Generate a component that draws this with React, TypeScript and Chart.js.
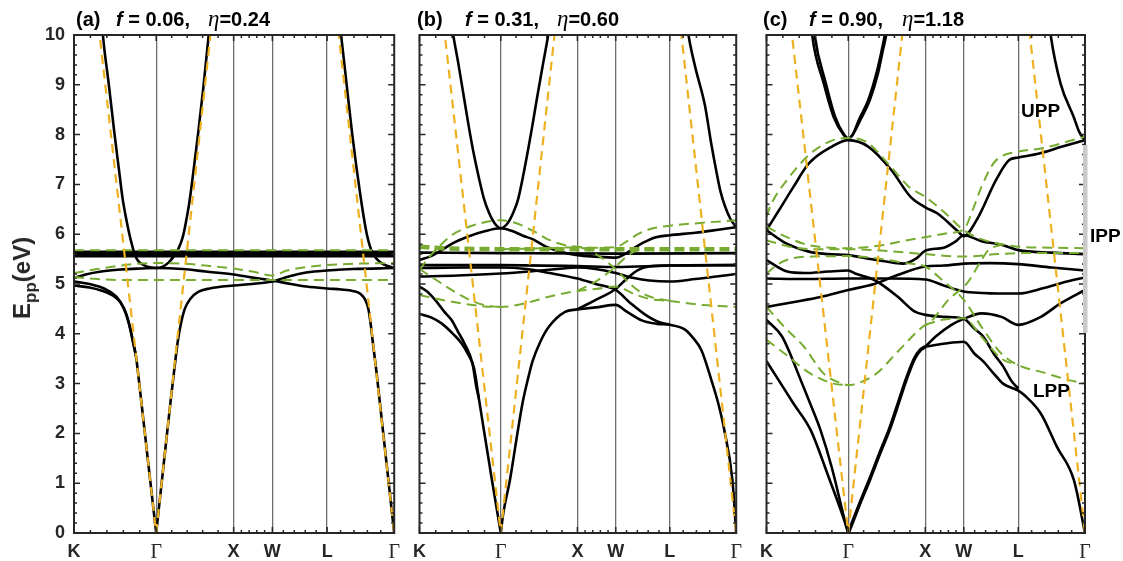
import React, { useEffect, useRef } from 'react';
import { Chart, registerables } from 'chart.js';

Chart.register(...registerables);

type Pt = [number, number];

// ---------- axes ----------
const K_PATH_POS = [0, 1.0607, 2.0607, 2.5607, 3.2678, 4.1339];
const K_PATH_LABELS = ['K', 'Γ', 'X', 'W', 'L', 'Γ'];
const E_MIN = 0;
const E_MAX = 10;

// ---------- light lines (orange, same in every panel) ----------
const LIGHT_KG: Pt[] = [[0.2945, 10.5], [1.0607, 0]];
const LIGHT_GX: Pt[] = [[1.0607, 0], [1.797, 10.5]];
const LIGHT_LG: Pt[] = [[3.39, 10.4], [4.1339, 0]];

// ---------- panel (a) f=0.06 ----------
const A_UPPER_1: Pt[] = [[0.35, 10.5], [0.373, 10], [0.45, 9.0], [0.52, 8.05], [0.58, 7.3], [0.627, 6.72], [0.675, 6.3], [0.712, 6.02], [0.755, 5.75], [0.79, 5.57], [0.83, 5.46], [0.9, 5.38], [0.98, 5.335], [1.061, 5.32], [1.14, 5.345], [1.22, 5.43], [1.29, 5.56], [1.34, 5.68], [1.4, 5.92], [1.44, 6.2], [1.49, 6.65], [1.545, 7.3], [1.603, 8.03], [1.67, 8.95], [1.739, 10], [1.76, 10.35]];
const A_UPPER_2: Pt[] = [[3.41, 10.5], [3.448, 10], [3.52, 9.0], [3.59, 8.03], [3.65, 7.3], [3.7, 6.75], [3.745, 6.3], [3.78, 6.0], [3.82, 5.76], [3.86, 5.6], [3.91, 5.5], [3.97, 5.42], [4.05, 5.36], [4.134, 5.32]];
const A_FLAT_1: Pt[] = [[0, 5.56], [4.134, 5.56]];
const A_FLAT_2: Pt[] = [[0, 5.6], [4.134, 5.6]];
const A_FLAT_3: Pt[] = [[0, 5.645], [4.134, 5.645]];
const A_MID: Pt[] = [[0, 5.12], [0.15, 5.19], [0.35, 5.25], [0.6, 5.29], [0.85, 5.31], [1.061, 5.32], [1.4, 5.3], [1.7, 5.25], [2.061, 5.19], [2.3, 5.13], [2.561, 5.07], [2.8, 5.0], [3.0, 4.95], [3.268, 4.91], [3.45, 4.89], [3.6, 4.86], [3.7, 4.8], [3.76, 4.68], [3.8, 4.5], [3.83, 4.2], [3.86, 3.8], [3.9, 3.3], [3.95, 2.6], [4.0, 1.89], [4.07, 0.9], [4.134, 0]];
const A_LP_K1: Pt[] = [[0, 4.97], [0.2, 4.93], [0.35, 4.87], [0.5, 4.77], [0.6, 4.63], [0.67, 4.42], [0.72, 4.15], [0.76, 3.85], [0.8, 3.55], [0.85, 2.9], [0.95, 1.52], [1.061, 0]];
const A_LP_K2: Pt[] = [[0, 5.05], [0.2, 5.0], [0.4, 4.9], [0.55, 4.74], [0.64, 4.52], [0.7, 4.25], [0.74, 4.0], [0.78, 3.7], [0.8, 3.55]];
const A_LP_GX: Pt[] = [[1.061, 0], [1.15, 1.27], [1.25, 2.69], [1.3, 3.35], [1.34, 3.85], [1.38, 4.2], [1.43, 4.5], [1.5, 4.7], [1.603, 4.84], [1.75, 4.91], [2.061, 4.97], [2.3, 5.0], [2.561, 5.05], [2.75, 5.14], [2.9, 5.2], [3.1, 5.25], [3.268, 5.27], [3.6, 5.3], [4.134, 5.32]];
const A_PL_1: Pt[] = [[0, 5.68], [4.134, 5.68]];
const A_PL_2: Pt[] = [[0, 5.14], [0.3, 5.1], [0.6, 5.08], [4.134, 5.08]];
const A_PL_3: Pt[] = [[0, 5.22], [0.3, 5.3], [0.6, 5.37], [0.85, 5.41], [1.061, 5.42], [1.4, 5.41], [1.7, 5.37], [2.061, 5.31], [2.3, 5.25], [2.561, 5.17], [2.75, 5.27], [3.0, 5.34], [3.268, 5.38], [3.7, 5.41], [4.134, 5.42]];

// ---------- panel (b) f=0.31 ----------
const B_UPPER_1: Pt[] = [[0.4, 10.4], [0.44, 10], [0.51, 9.4], [0.585, 8.7], [0.65, 8.1], [0.71, 7.6], [0.78, 7.1], [0.84, 6.72], [0.91, 6.42], [0.98, 6.22], [1.061, 6.12], [1.15, 6.22], [1.22, 6.42], [1.285, 6.69], [1.35, 7.15], [1.412, 7.65], [1.47, 8.15], [1.53, 8.7], [1.61, 9.4], [1.68, 10.0], [1.72, 10.4]];
const B_UPPER_2: Pt[] = [[3.47, 10.5], [3.511, 10], [3.6, 9.35], [3.724, 8.6], [3.81, 7.8], [3.87, 7.3], [3.93, 6.85], [3.99, 6.55], [4.06, 6.3], [4.134, 6.14]];
const B_FLAT: Pt[] = [[0, 5.63], [1.061, 5.62], [2.561, 5.61], [4.134, 5.62]];
const B_BAND_1: Pt[] = [[0, 5.48], [0.15, 5.56], [0.288, 5.68], [0.45, 5.83], [0.628, 5.95], [0.85, 6.06], [1.061, 6.12], [1.2, 6.07], [1.35, 5.97], [1.476, 5.9], [1.65, 5.75], [1.815, 5.66], [2.061, 5.58], [2.3, 5.55], [2.561, 5.53], [2.68, 5.6], [2.8, 5.72], [2.92, 5.83], [3.087, 5.94], [3.268, 5.98], [3.6, 6.03], [3.9, 6.09], [4.134, 6.14]];
const B_BAND_2: Pt[] = [[0, 5.38], [1.061, 5.38], [2.061, 5.36], [2.561, 5.34], [3.268, 5.37], [4.134, 5.38]];
const B_BAND_3: Pt[] = [[0, 5.32], [0.6, 5.33], [1.061, 5.33], [1.4, 5.3], [1.7, 5.22], [2.061, 5.11], [2.3, 5.0], [2.561, 4.88], [2.75, 4.62], [2.95, 4.38], [3.15, 4.22], [3.268, 4.19]];
const B_BAND_4: Pt[] = [[0, 5.15], [0.5, 5.17], [1.061, 5.21], [1.5, 5.26], [1.8, 5.3], [2.061, 5.33], [2.3, 5.3], [2.561, 5.22], [2.8, 5.12], [3.0, 5.07], [3.268, 5.05], [3.6, 5.1], [4.134, 5.2]];
const B_LP_GX: Pt[] = [[1.061, 0], [1.094, 0.4], [1.18, 1.06], [1.285, 2.07], [1.35, 2.65], [1.412, 3.07], [1.476, 3.45], [1.58, 3.85], [1.688, 4.14], [1.9, 4.44], [2.061, 4.49]];
const B_LP_XG: Pt[] = [[2.061, 4.49], [2.3, 4.53], [2.561, 4.58], [2.7, 4.45], [2.9, 4.27], [3.1, 4.2], [3.268, 4.18], [3.47, 4.08], [3.58, 3.9], [3.68, 3.67], [3.81, 3.07], [3.9, 2.6], [3.978, 2.07], [4.084, 1.06], [4.134, 0]];
const B_RISE: Pt[] = [[2.061, 4.49], [2.3, 4.68], [2.561, 4.9], [2.7, 5.1], [2.85, 5.28], [3.0, 5.35], [3.268, 5.37], [4.134, 5.38]];
const B_LP_K1: Pt[] = [[0, 4.4], [0.15, 4.33], [0.288, 4.21], [0.45, 3.98], [0.543, 3.82], [0.63, 3.6], [0.713, 3.3], [0.775, 2.7], [0.84, 2.07], [0.946, 1.06], [1.061, 0]];
const B_LP_K2: Pt[] = [[0, 4.95], [0.1, 4.85], [0.204, 4.68], [0.32, 4.45], [0.416, 4.28], [0.5, 4.05], [0.585, 3.81], [0.692, 3.4], [0.74, 2.95], [0.775, 2.7]];
const B_PL_1: Pt[] = [[0, 5.75], [0.3, 5.72], [1.061, 5.7], [4.134, 5.7]];
const B_PL_2: Pt[] = [[0, 5.28], [0.08, 5.45], [0.16, 5.6], [0.3, 5.82], [0.42, 5.98], [0.6, 6.12], [0.8, 6.22], [1.061, 6.28], [1.3, 6.2], [1.5, 6.05], [1.7, 5.88], [1.9, 5.78], [2.061, 5.75], [2.3, 5.73], [2.561, 5.74], [2.7, 5.85], [2.85, 6.0], [3.0, 6.1], [3.268, 6.17], [3.7, 6.23], [4.134, 6.28]];
const B_PL_3: Pt[] = [[0, 4.78], [0.3, 4.68], [0.6, 4.6], [0.85, 4.55], [1.061, 4.54], [1.4, 4.62], [1.7, 4.75], [2.061, 4.86], [2.3, 4.9], [2.561, 4.95], [2.8, 4.8], [3.0, 4.7], [3.268, 4.66], [3.7, 4.58], [4.134, 4.54]];
const B_PL_4: Pt[] = [[0, 5.3], [0.2, 5.1], [0.45, 4.85], [0.7, 4.65], [0.9, 4.56], [1.061, 4.54]];
const B_PL_5: Pt[] = [[1.061, 5.7], [1.7, 5.72], [2.061, 5.74], [2.3, 5.6], [2.561, 5.3], [2.75, 5.0], [2.95, 4.78], [3.268, 4.66]];
const B_PL_6: Pt[] = [[2.061, 4.86], [2.3, 5.05], [2.561, 5.35], [2.7, 5.55], [2.85, 5.68], [3.0, 5.7]];

// ---------- panel (c) f=0.90 ----------
const C_UPPER_1: Pt[] = [[0.57, 10.4], [0.593, 10], [0.743, 9.03], [0.87, 8.36], [1.0, 8.0], [1.061, 7.92], [1.127, 8.02], [1.22, 8.3], [1.34, 8.69], [1.45, 9.25], [1.51, 9.69], [1.553, 10], [1.58, 10.3]];
const C_UPPER_1B: Pt[] = [[0.6, 10.4], [0.625, 10], [0.77, 9.03], [0.89, 8.36], [1.01, 7.99], [1.061, 7.92], [1.115, 7.99], [1.2, 8.3], [1.32, 8.69], [1.43, 9.25], [1.495, 9.69], [1.535, 10], [1.56, 10.3]];
const C_UPPER_2: Pt[] = [[3.65, 10.5], [3.688, 10], [3.816, 9.03], [3.986, 8.36], [4.06, 8.05], [4.134, 7.89]];
const C_BAND_1: Pt[] = [[0, 6.08], [0.166, 6.49], [0.35, 6.95], [0.55, 7.42], [0.85, 7.76], [1.061, 7.89], [1.32, 7.76], [1.62, 7.29], [1.87, 6.75], [2.061, 6.54], [2.215, 6.42], [2.47, 6.08], [2.561, 5.96], [2.73, 6.29], [2.98, 7.09], [3.15, 7.49], [3.268, 7.54], [3.54, 7.62], [3.84, 7.76], [4.134, 7.89]];
const C_BAND_2: Pt[] = [[0, 6.08], [0.25, 5.82], [0.55, 5.65], [0.8, 5.6], [1.061, 5.58], [1.4, 5.49], [1.78, 5.41], [1.95, 5.52], [2.061, 5.67], [2.3, 5.73], [2.45, 5.85], [2.561, 5.98], [2.79, 5.86], [3.05, 5.79], [3.268, 5.68], [3.7, 5.63], [4.134, 5.6]];
const C_BAND_3: Pt[] = [[0, 5.48], [0.27, 5.25], [0.5, 5.22], [0.8, 5.25], [1.061, 5.27], [1.15, 5.21], [1.4, 5.08], [1.7, 4.75], [1.92, 4.45], [2.061, 4.38], [2.3, 4.34], [2.561, 4.3], [2.7, 4.1], [2.81, 3.95], [2.95, 3.6], [3.07, 3.35], [3.18, 3.05], [3.268, 2.9]];
const C_BAND_4: Pt[] = [[0, 5.11], [0.5, 5.1], [1.061, 5.11], [1.6, 5.11], [2.061, 5.09], [2.3, 4.97], [2.561, 4.85], [2.8, 4.82], [3.0, 4.81], [3.268, 4.81], [3.6, 4.92], [3.9, 5.05], [4.134, 5.13]];
const C_BAND_5: Pt[] = [[0, 4.54], [0.36, 4.64], [0.7, 4.74], [1.061, 4.88], [1.4, 5.0], [1.7, 5.18], [2.061, 5.35], [2.3, 5.37], [2.561, 5.41], [2.9, 5.42], [3.268, 5.4], [3.7, 5.33], [4.134, 5.27]];
const C_RISE: Pt[] = [[2.061, 3.74], [2.2, 3.95], [2.4, 4.18], [2.561, 4.3], [2.79, 4.41], [3.05, 4.34], [3.268, 4.18], [3.56, 4.34], [3.815, 4.61], [4.134, 4.88]];
const C_LP_K1: Pt[] = [[0, 3.45], [0.145, 3.1], [0.35, 2.6], [0.572, 2.07], [0.8, 1.15], [1.0, 0.3], [1.061, 0]];
const C_LP_K2: Pt[] = [[0, 4.28], [0.2, 3.95], [0.32, 3.55], [0.444, 3.07], [0.58, 2.55], [0.7, 2.07], [0.85, 1.3], [1.0, 0.35], [1.061, 0]];
const C_LP_GX: Pt[] = [[1.061, 0], [1.2, 0.55], [1.34, 1.08], [1.47, 1.6], [1.6, 2.1], [1.72, 2.65], [1.81, 3.07], [1.92, 3.5], [2.0, 3.68], [2.061, 3.74]];
const C_LP_XG: Pt[] = [[2.061, 3.74], [2.3, 3.8], [2.561, 3.84], [2.7, 3.6], [2.81, 3.45], [2.95, 3.2], [3.07, 3.0], [3.268, 2.86], [3.36, 2.75], [3.56, 2.4], [3.77, 1.73], [3.99, 1.06], [4.134, 0]];
const C_PL_1: Pt[] = [[0, 6.35], [0.06, 6.6], [0.273, 7.1], [0.572, 7.62], [0.85, 7.88], [1.061, 7.93], [1.3, 7.85], [1.6, 7.38], [1.85, 6.95], [2.061, 6.75], [2.3, 6.45], [2.561, 6.08], [2.79, 5.9], [3.05, 5.8], [3.268, 5.75], [3.7, 5.73], [4.134, 5.72]];
const C_PL_2: Pt[] = [[0, 6.15], [0.25, 5.95], [0.55, 5.78], [1.061, 5.72], [1.5, 5.78], [1.8, 5.87], [2.061, 5.94], [2.35, 6.02], [2.561, 6.1], [2.68, 6.5], [2.79, 6.95], [2.96, 7.45], [3.268, 7.66], [3.56, 7.72], [4.134, 7.96]];
const C_PL_3: Pt[] = [[0, 5.88], [0.3, 5.75], [0.6, 5.7], [1.061, 5.7], [1.6, 5.66], [2.061, 5.6], [2.561, 5.55], [3.0, 5.6], [3.268, 5.62], [4.134, 5.62]];
const C_PL_4: Pt[] = [[0, 5.21], [0.15, 5.4], [0.35, 5.52], [0.6, 5.55], [1.061, 5.56], [1.5, 5.5], [1.8, 5.42], [2.061, 5.35], [2.28, 5.08], [2.561, 4.68], [2.79, 4.14], [3.05, 3.6], [3.268, 3.37], [3.6, 3.22], [3.9, 3.08], [4.134, 3.0]];
const C_PL_5: Pt[] = [[0, 4.54], [0.23, 4.14], [0.487, 3.74], [0.743, 3.2], [1.0, 2.99], [1.061, 2.97], [1.127, 2.98], [1.425, 3.2], [1.72, 3.67], [2.061, 4.18], [2.11, 4.21], [2.36, 4.68], [2.62, 5.05], [2.79, 5.48], [2.88, 5.68], [3.05, 5.79]];
const C_PL_6: Pt[] = [[0, 3.88], [0.23, 3.61], [0.572, 3.2], [0.87, 3.0], [1.061, 2.97]];
const C_PL_7: Pt[] = [[2.061, 4.18], [2.28, 4.28], [2.561, 4.31], [2.79, 3.94], [3.05, 3.5], [3.268, 3.37]];

// ---------- titles / annotations ----------
const PANEL_TAGS = ['(a)', '(b)', '(c)'];
const FILL_FRACTIONS = ['0.06', '0.31', '0.90'];
const ETA_VALUES = ['0.24', '0.60', '1.18'];
const BRANCH_LABELS = ['UPP', 'IPP', 'LPP'];

// ---------- styling ----------
const SANS = '"Liberation Sans", Arial, Helvetica, sans-serif';
const SERIF = '"Liberation Serif", "Times New Roman", serif';
const AXIS_COLOR = '#262626';
const BLACK = '#000000';
const GREEN = '#77AC30';
const ORANGE = '#EDB120';

type PanelDef = {
  canvasLeft: number;
  canvasWidth: number;
  plotLeft: number;
  plotRight: number;
  showY: boolean;
  grayBar: boolean;
  black: Pt[][];
  thickBlack: Pt[][];
  green: Pt[][];
  thickGreen: Pt[][];
};

const PANELS: PanelDef[] = [
  {
    canvasLeft: 0, canvasWidth: 408, plotLeft: 74, plotRight: 399, showY: true, grayBar: false,
    black: [A_UPPER_1, A_UPPER_2, A_FLAT_1, A_FLAT_2, A_FLAT_3, A_MID, A_LP_K1, A_LP_K2, A_LP_GX],
    thickBlack: [],
    green: [A_PL_1, A_PL_2, A_PL_3],
    thickGreen: [],
  },
  {
    canvasLeft: 405, canvasWidth: 345, plotLeft: 417.3, plotRight: 742.3, showY: false, grayBar: false,
    black: [B_UPPER_1, B_UPPER_2, B_FLAT, B_BAND_1, B_BAND_2, B_BAND_3, B_BAND_4, B_LP_GX, B_LP_XG, B_RISE, B_LP_K1, B_LP_K2],
    thickBlack: [],
    green: [B_PL_2, B_PL_3, B_PL_4, B_PL_5, B_PL_6],
    thickGreen: [B_PL_1],
  },
  {
    canvasLeft: 752, canvasWidth: 371, plotLeft: 762, plotRight: 1085, showY: false, grayBar: true,
    black: [C_UPPER_1, C_UPPER_1B, C_UPPER_2, C_BAND_1, C_BAND_2, C_BAND_3, C_BAND_4, C_BAND_5, C_RISE, C_LP_K1, C_LP_K2, C_LP_XG],
    thickBlack: [C_LP_GX],
    green: [C_PL_1, C_PL_2, C_PL_3, C_PL_4, C_PL_5, C_PL_6, C_PL_7],
    thickGreen: [],
  },
];

const CANVAS_H = 561;
const PLOT_TOP = 35;
const PLOT_BOTTOM = 533;

function mkLine(pts: Pt[], color: string, width: number, dash: number[], order: number, smooth: boolean) {
  return {
    data: pts.map(([x, y]) => ({ x, y })),
    borderColor: color,
    backgroundColor: color,
    borderWidth: width,
    borderDash: dash,
    pointRadius: 0,
    pointHoverRadius: 0,
    fill: false,
    tension: 0,
    cubicInterpolationMode: smooth ? 'monotone' : 'default',
    order,
    clip: 0,
  };
}

const framePlugin = {
  id: 'frame',
  afterDatasetsDraw(chart: any, _args: any, opts: any) {
    const { ctx, chartArea } = chart;
    const { left, top, right, bottom } = chartArea;
    const xs = chart.scales.x;
    const ys = chart.scales.y;
    ctx.save();
    ctx.strokeStyle = AXIS_COLOR;
    ctx.lineWidth = 1.5;
    ctx.beginPath();
    for (let k = 0; k <= 50; k++) {
      const py = ys.getPixelForValue(E_MIN + (k * (E_MAX - E_MIN)) / 50);
      const len = k % 5 === 0 ? 6 : 3;
      ctx.moveTo(left, py); ctx.lineTo(left + len, py);
      ctx.moveTo(right, py); ctx.lineTo(right - len, py);
    }
    for (let s = 0; s < K_PATH_POS.length - 1; s++) {
      const a = K_PATH_POS[s];
      const b = K_PATH_POS[s + 1];
      for (let j = 0; j < 5; j++) {
        const px = xs.getPixelForValue(a + ((b - a) * j) / 5);
        const len = j === 0 ? 6 : 3;
        ctx.moveTo(px, bottom); ctx.lineTo(px, bottom - len);
        ctx.moveTo(px, top); ctx.lineTo(px, top + len);
      }
    }
    ctx.stroke();
    ctx.lineWidth = 2;
    ctx.strokeRect(left, top, right - left, bottom - top);
    if (opts && opts.grayBar) {
      ctx.fillStyle = '#c9c9c9';
      ctx.fillRect(right - 2, 145, 4.5, 188);
    }
    ctx.restore();
  },
};

function buildConfig(p: PanelDef): any {
  const datasets = [
    mkLine(LIGHT_KG, ORANGE, 2.2, [9, 6], 0, false),
    mkLine(LIGHT_GX, ORANGE, 2.2, [9, 6], 0, false),
    mkLine(LIGHT_LG, ORANGE, 2.2, [9, 6], 0, false),
    ...p.green.map((d) => mkLine(d, GREEN, 2, [10, 6], 1, true)),
    ...p.thickGreen.map((d) => mkLine(d, GREEN, 4.5, [10, 5], 1, true)),
    ...p.black.map((d) => mkLine(d, BLACK, 2.6, [], 2, true)),
    ...p.thickBlack.map((d) => mkLine(d, BLACK, 3.6, [], 2, true)),
  ];
  const nLast = K_PATH_POS.length - 1;
  return {
    type: 'line',
    data: { datasets },
    options: {
      animation: false,
      responsive: false,
      maintainAspectRatio: false,
      devicePixelRatio: 1,
      events: [],
      layout: { padding: { top: PLOT_TOP, right: p.canvasLeft + p.canvasWidth - p.plotRight, left: 0, bottom: 0 } },
      plugins: {
        legend: { display: false },
        tooltip: { enabled: false },
        title: { display: false },
        frame: { grayBar: p.grayBar },
      },
      scales: {
        x: {
          type: 'linear',
          min: K_PATH_POS[0],
          max: K_PATH_POS[nLast],
          afterBuildTicks: (axis: any) => {
            axis.ticks = K_PATH_POS.map((value) => ({ value }));
          },
          afterFit: (axis: any) => {
            axis.height = CANVAS_H - PLOT_BOTTOM;
          },
          border: { display: false },
          grid: {
            drawTicks: false,
            lineWidth: 1.3,
            color: (ctx: any) => (ctx.index === 0 || ctx.index === nLast ? 'rgba(0,0,0,0)' : '#6e6e6e'),
          },
          ticks: {
            autoSkip: false,
            maxRotation: 0,
            minRotation: 0,
            padding: 8,
            color: AXIS_COLOR,
            callback: (_v: any, i: number) => K_PATH_LABELS[i],
            font: (ctx: any) =>
              ctx.tick && ctx.tick.label === 'Γ'
                ? { family: SERIF, size: 20, weight: 'normal' }
                : { family: SANS, size: 18, weight: 'bold' },
          },
        },
        y: {
          type: 'linear',
          min: E_MIN,
          max: E_MAX,
          afterFit: (axis: any) => {
            axis.width = p.plotLeft - p.canvasLeft;
          },
          border: { display: false },
          grid: { display: false, drawTicks: false },
          ticks: {
            display: p.showY,
            stepSize: 1,
            autoSkip: false,
            padding: 9,
            color: AXIS_COLOR,
            font: { family: SANS, size: 18, weight: 'bold' },
          },
        },
      },
    },
    plugins: [framePlugin],
  };
}

const TITLE_POS = [
  { tag: 76, f: 116, eta: 208 },
  { tag: 417, f: 465, eta: 557 },
  { tag: 763, f: 809, eta: 902 },
];
const LABEL_POS = [
  { x: 1021, top: 101 },
  { x: 1090, top: 226 },
  { x: 1033, top: 381 },
];

export default function App() {
  const canvasRefs = useRef<(HTMLCanvasElement | null)[]>([]);

  useEffect(() => {
    const charts = PANELS.map((p, i) => new Chart(canvasRefs.current[i] as HTMLCanvasElement, buildConfig(p)));
    return () => {
      charts.forEach((c) => c.destroy());
    };
  }, []);

  const titleStyle = (left: number): React.CSSProperties => ({
    position: 'absolute',
    left,
    top: 8,
    font: `bold 20px ${SANS}`,
    lineHeight: '22px',
    color: '#000',
    whiteSpace: 'nowrap',
  });

  return (
    <div style={{ position: 'fixed', left: 0, top: 0, width: 1123, height: 561, background: '#fff', overflow: 'hidden' }}>
      {PANELS.map((p, i) => (
        <canvas
          key={i}
          ref={(el) => {
            canvasRefs.current[i] = el;
          }}
          width={p.canvasWidth}
          height={CANVAS_H}
          style={{ position: 'absolute', left: p.canvasLeft, top: 0, width: p.canvasWidth, height: CANVAS_H }}
        />
      ))}
      {TITLE_POS.map((t, i) => (
        <React.Fragment key={'t' + i}>
          <div style={titleStyle(t.tag)}>{PANEL_TAGS[i]}</div>
          <div style={titleStyle(t.f)}>
            <i>f</i> = {FILL_FRACTIONS[i]},
          </div>
          <div style={titleStyle(t.eta)}>
            <span style={{ fontFamily: SERIF, fontStyle: 'italic', fontWeight: 'normal', fontSize: 23 }}>η</span>={ETA_VALUES[i]}
          </div>
        </React.Fragment>
      ))}
      <div
        style={{
          position: 'absolute',
          left: 22,
          top: 278,
          transform: 'translate(-50%, -50%) rotate(-90deg)',
          font: `bold 24px ${SANS}`,
          lineHeight: '26px',
          color: AXIS_COLOR,
          whiteSpace: 'nowrap',
        }}
      >
        E<sub style={{ fontSize: 17, lineHeight: 0 }}>pp</sub>(eV)
      </div>
      {LABEL_POS.map((l, i) => (
        <div
          key={'l' + i}
          style={{ position: 'absolute', left: l.x, top: l.top, font: `bold 19px ${SANS}`, lineHeight: '20px', color: '#000', whiteSpace: 'nowrap' }}
        >
          {BRANCH_LABELS[i]}
        </div>
      ))}
    </div>
  );
}
